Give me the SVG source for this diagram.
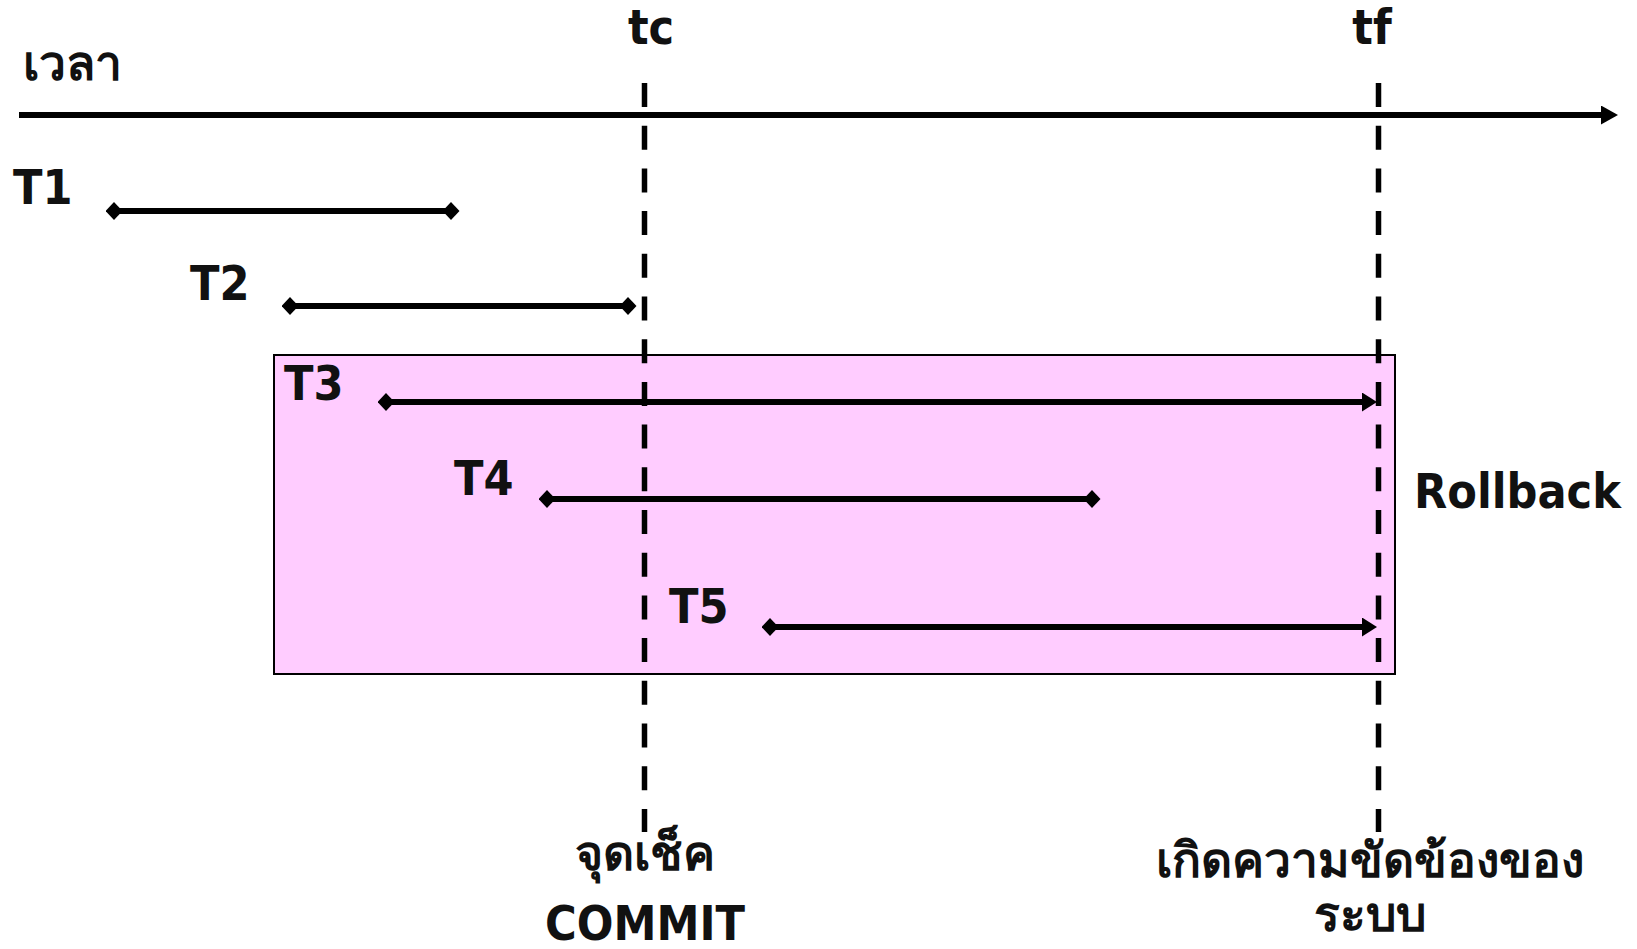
<svg xmlns="http://www.w3.org/2000/svg" width="1637" height="949" viewBox="0 0 1637 949">
<style>
  .lbl { font-family: "DejaVu Sans Condensed", "DejaVu Sans", "Noto Sans", sans-serif; font-stretch: condensed; font-weight: bold; font-size: 48px; fill: #111; }
  .mid { text-anchor: middle; }
  .tline { stroke: #000; stroke-width: 6; fill: none; }
  .dash { stroke: #000; stroke-width: 5.5; stroke-dasharray: 24 18.7; fill: none; }
</style>
<defs>
  <marker id="dia" markerUnits="userSpaceOnUse" markerWidth="17" markerHeight="18" viewBox="0 0 17 18" refX="8.5" refY="9" orient="auto">
    <path d="M0,9 L8.5,0 L17,9 L8.5,18 Z" fill="#000"/>
  </marker>
  <marker id="arr" markerUnits="userSpaceOnUse" markerWidth="15" markerHeight="19" viewBox="0 0 15 19" refX="7" refY="9.5" orient="auto">
    <path d="M0,0 L15,9.5 L0,19 Z" fill="#000"/>
  </marker>
  <marker id="axarr" markerUnits="userSpaceOnUse" markerWidth="17" markerHeight="19" viewBox="0 0 17 19" refX="7" refY="9.5" orient="auto">
    <path d="M0,0 L17,9.5 L0,19 Z" fill="#000"/>
  </marker>
</defs>
<rect width="1637" height="949" fill="#fff"/>

<g id="rollback-region">
  <rect x="274" y="355" width="1121" height="319" fill="#FFCCFF" stroke="#000" stroke-width="2"/>
  <text class="lbl" x="1414" y="508">Rollback</text>
</g>

<g id="time-axis">
  <line x1="19" y1="115" x2="1608" y2="115" class="tline" marker-end="url(#axarr)"/>
  <text class="lbl" x="23" y="80">เวลา</text>
</g>

<g id="tc">
  <line x1="644.5" y1="83" x2="644.5" y2="832" class="dash"/>
  <text class="lbl mid" x="651" y="44">tc</text>
  <text class="lbl mid" x="645" y="870">จุดเช็ค</text>
  <text class="lbl mid" x="645" y="940">COMMIT</text>
</g>

<g id="tf">
  <line x1="1378.5" y1="83" x2="1378.5" y2="832" class="dash"/>
  <text class="lbl mid" x="1372" y="44">tf</text>
  <text class="lbl mid" x="1370" y="877">เกิดความขัดข้องของ</text>
  <text class="lbl mid" x="1370" y="931">ระบบ</text>
</g>

<g id="T1"><text class="lbl" x="13" y="204">T1</text></g>
<g id="T2"><text class="lbl" x="190" y="300">T2</text></g>
<g id="T3"><text class="lbl" x="284" y="400">T3</text></g>
<g id="T4"><text class="lbl" x="454" y="495">T4</text></g>
<g id="T5"><text class="lbl" x="669" y="623">T5</text></g>

<g id="connectors">
  <line x1="114" y1="211" x2="451" y2="211" class="tline" marker-start="url(#dia)" marker-end="url(#dia)"/>
  <line x1="290" y1="306" x2="628" y2="306" class="tline" marker-start="url(#dia)" marker-end="url(#dia)"/>
  <line x1="386" y1="402" x2="1369" y2="402" class="tline" marker-start="url(#dia)" marker-end="url(#arr)"/>
  <line x1="547" y1="499" x2="1092" y2="499" class="tline" marker-start="url(#dia)" marker-end="url(#dia)"/>
  <line x1="770" y1="627" x2="1369" y2="627" class="tline" marker-start="url(#dia)" marker-end="url(#arr)"/>
</g>
</svg>
